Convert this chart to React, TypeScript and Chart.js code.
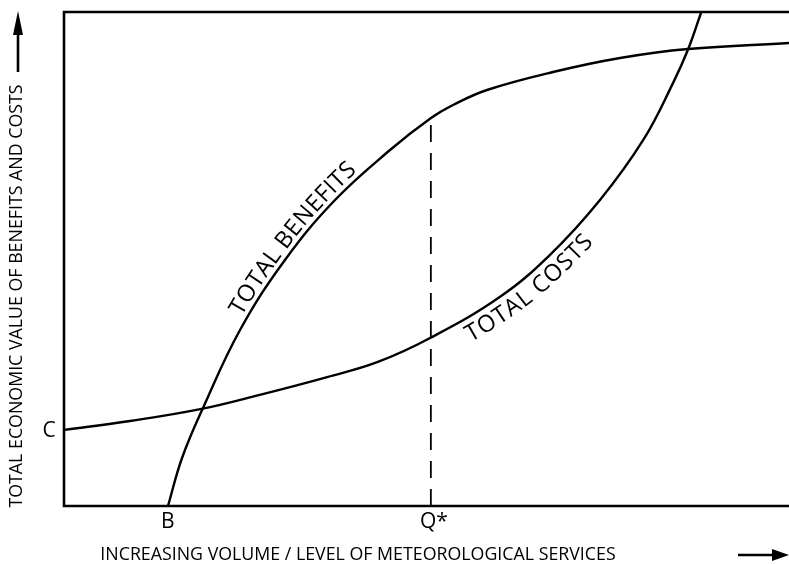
import React, { useEffect, useRef } from "react";
import { Chart, registerables } from "chart.js";
Chart.register(...registerables);

// Data (arbitrary units 0..100 on both axes)
const costX = [0, 9.1, 18.8, 27.0, 36.3, 43.2, 50.5, 60.1, 67.0, 73.9, 79.9, 84.0, 86.1, 87.9];
const costY = [15.4, 17.2, 19.6, 22.5, 26.1, 29.1, 34.0, 42.3, 50.8, 61.9, 74.1, 85.6, 92.5, 100];
const benefitX = [14.34, 16.28, 19.17, 24.28, 30.48, 37.38, 44.97, 50.62, 53.66, 58.34, 67.45, 76.69, 86.07, 100];
const benefitY = [0, 9.72, 19.84, 35.63, 49.8, 61.94, 72.06, 78.54, 81.17, 84.21, 87.85, 90.69, 92.51, 93.72];
const qStarX = 50.6;
const qStarY = 78.5;
const bX = 14.3;
const cY = 15.4;
const tickLabels = ["C", "B", "Q*"];
const curveLabels = ["TOTAL BENEFITS", "TOTAL COSTS"];
const xTitle = "INCREASING VOLUME / LEVEL OF METEOROLOGICAL SERVICES";
const yTitle = "TOTAL ECONOMIC VALUE OF BENEFITS AND COSTS";

const FONT = "'Open Sans', 'DejaVu Sans', sans-serif";

type P = { x: number; y: number };

function samplePath(meta: any): P[] {
  const pts = meta.data;
  const out: P[] = [];
  for (let i = 0; i < pts.length - 1; i++) {
    const a = pts[i], b = pts[i + 1];
    const p0 = [a.x, a.y];
    const p1 = [a.cp2x ?? a.x, a.cp2y ?? a.y];
    const p2 = [b.cp1x ?? b.x, b.cp1y ?? b.y];
    const p3 = [b.x, b.y];
    for (let k = 0; k < 30; k++) {
      const t = k / 30, u = 1 - t;
      out.push({
        x: u * u * u * p0[0] + 3 * u * u * t * p1[0] + 3 * u * t * t * p2[0] + t * t * t * p3[0],
        y: u * u * u * p0[1] + 3 * u * u * t * p1[1] + 3 * u * t * t * p2[1] + t * t * t * p3[1],
      });
    }
  }
  const l = pts[pts.length - 1];
  out.push({ x: l.x, y: l.y });
  return out;
}

function drawOnPath(ctx: CanvasRenderingContext2D, path: P[], text: string, startPx: number, offset: number, spacing: number) {
  const cum = [0];
  for (let i = 1; i < path.length; i++) {
    cum.push(cum[i - 1] + Math.hypot(path[i].x - path[i - 1].x, path[i].y - path[i - 1].y));
  }
  let si = path.findIndex((p) => p.x >= startPx);
  if (si < 0) si = 0;
  let d = cum[si];
  const at = (dist: number) => {
    let i = 1;
    while (i < cum.length - 1 && cum[i] < dist) i++;
    const a = path[i - 1], b = path[i];
    const seg = cum[i] - cum[i - 1] || 1;
    const t = (dist - cum[i - 1]) / seg;
    return { x: a.x + (b.x - a.x) * t, y: a.y + (b.y - a.y) * t, ang: Math.atan2(b.y - a.y, b.x - a.x) };
  };
  for (const ch of text) {
    const w = ctx.measureText(ch).width;
    const p = at(d + w / 2);
    ctx.save();
    ctx.translate(p.x + offset * Math.sin(p.ang), p.y - offset * Math.cos(p.ang));
    ctx.rotate(p.ang);
    ctx.textAlign = "center";
    ctx.textBaseline = "alphabetic";
    ctx.fillText(ch, 0, 0);
    ctx.restore();
    d += w + spacing;
  }
}

const decorPlugin = {
  id: "decor",
  afterDatasetsDraw(chart: any) {
    const { ctx, chartArea, scales } = chart;
    const xs = scales.x, ys = scales.y;
    const W = chart.width;
    ctx.save();
    ctx.strokeStyle = "#000";
    ctx.fillStyle = "#000";
    ctx.lineWidth = 2.6;
    ctx.beginPath();
    ctx.moveTo(chartArea.left, chartArea.top);
    ctx.lineTo(W, chartArea.top);
    ctx.moveTo(chartArea.left, chartArea.top - 1.3);
    ctx.lineTo(chartArea.left, chartArea.bottom + 1.3);
    ctx.moveTo(chartArea.left, chartArea.bottom);
    ctx.lineTo(W, chartArea.bottom);
    ctx.stroke();

    // tick-like labels
    ctx.font = `21px ${FONT}`;
    ctx.textAlign = "center";
    ctx.textBaseline = "middle";
    ctx.fillText(tickLabels[0], chartArea.left - 15, ys.getPixelForValue(cY) + 1);
    ctx.fillText(tickLabels[1], xs.getPixelForValue(bX), chartArea.bottom + 16);
    ctx.fillText(tickLabels[2], xs.getPixelForValue(qStarX) + 3, chartArea.bottom + 16);

    // axis titles
    ctx.font = `17.8px ${FONT}`;
    ctx.fillText(xTitle, 358, 555);
    ctx.save();
    ctx.translate(17, 296);
    ctx.rotate(-Math.PI / 2);
    ctx.fillText(yTitle, 0, 0);
    ctx.restore();

    // arrows
    ctx.lineWidth = 2.6;
    ctx.beginPath();
    ctx.moveTo(738, 555);
    ctx.lineTo(776, 555);
    ctx.stroke();
    ctx.beginPath();
    ctx.moveTo(789, 555);
    ctx.lineTo(772, 549);
    ctx.lineTo(772, 561);
    ctx.closePath();
    ctx.fill();
    ctx.beginPath();
    ctx.moveTo(18, 72);
    ctx.lineTo(18, 28);
    ctx.stroke();
    ctx.beginPath();
    ctx.moveTo(18, 11);
    ctx.lineTo(13, 35);
    ctx.lineTo(23, 35);
    ctx.closePath();
    ctx.fill();

    // curve labels
    ctx.font = `23.5px ${FONT}`;
    const bPath = samplePath(chart.getDatasetMeta(2));
    const cPath = samplePath(chart.getDatasetMeta(1));
    drawOnPath(ctx, bPath, curveLabels[0], xs.getPixelForValue(25.0), 5, 0.3);
    drawOnPath(ctx, cPath, curveLabels[1], xs.getPixelForValue(54.4), -23, 0.3);
    ctx.restore();
  },
};

export default function App() {
  const ref = useRef<HTMLCanvasElement>(null);
  useEffect(() => {
    const toPts = (xs: number[], ys: number[]) => xs.map((x, i) => ({ x, y: ys[i] }));
    const chart = new Chart(ref.current!, {
      type: "scatter",
      data: {
        datasets: [
          {
            data: [{ x: qStarX, y: 0 }, { x: qStarX, y: qStarY }],
            showLine: true,
            borderColor: "#000",
            borderWidth: 1.8,
            borderDash: [17, 11],
            pointRadius: 0,
          },
          {
            data: toPts(costX, costY),
            showLine: true,
            borderColor: "#000",
            borderWidth: 2.4,
            pointRadius: 0,
            tension: 0.4,
          },
          {
            data: toPts(benefitX, benefitY),
            showLine: true,
            borderColor: "#000",
            borderWidth: 2.4,
            pointRadius: 0,
            tension: 0.4,
          },
        ],
      },
      options: {
        animation: false,
        responsive: false,
        layout: { padding: { left: 64, top: 12, right: 0, bottom: 58 } },
        plugins: { legend: { display: false }, tooltip: { enabled: false } },
        scales: {
          x: { type: "linear", min: 0, max: 100, display: false },
          y: { type: "linear", min: 0, max: 100, display: false },
        },
      },
      plugins: [decorPlugin],
    });
    return () => chart.destroy();
  }, []);
  return (
    <div style={{ position: "absolute", left: 0, top: 0, width: 789, height: 564, background: "#fff" }}>
      <canvas ref={ref} width={789} height={564} style={{ width: 789, height: 564 }} />
    </div>
  );
}
